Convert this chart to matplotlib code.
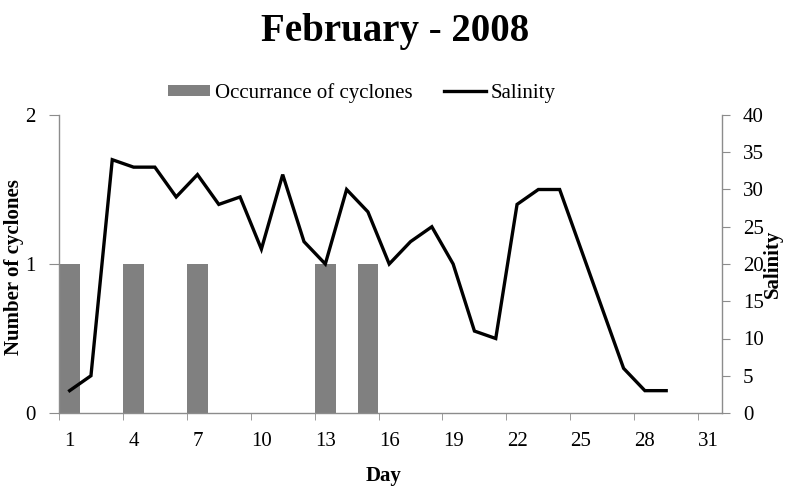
import matplotlib
matplotlib.use("Agg")
import matplotlib.pyplot as plt
import numpy as np

# data
days = np.arange(1, 32)
cyclone_days = [1, 4, 7, 13, 15]
cyclone_counts = [1, 1, 1, 1, 1]
salinity_days = np.arange(1, 30)
salinity = [3, 5, 34, 33, 33, 29, 32, 28, 29, 22, 32, 23, 20, 30, 27,
            20, 23, 25, 20, 11, 10, 28, 30, 30, 22, 14, 6, 3, 3]
day_labels = [str(d) for d in range(1, 32, 3)]

plt.rcParams["font.family"] = ["Liberation Serif", "DejaVu Serif"]
AXIS_GRAY = "#8c8c8c"
FS = 15

fig = plt.figure(figsize=(7.85, 4.87), dpi=100)
ax = fig.add_axes([59 / 785, 1 - 413 / 487, (722 - 59) / 785, (413 - 115) / 487])
ax2 = ax.twinx()

bars = ax.bar(cyclone_days, cyclone_counts, width=0.97, color="#808080",
              label="Occurrance of cyclones", zorder=1)
line, = ax2.plot(salinity_days, salinity, color="black", lw=2.4,
                 label="Salinity", solid_joinstyle="miter")

ax.set_xlim(0.5, 31.62)
ax.set_ylim(0, 2)
ax2.set_ylim(0, 40)

ax.set_yticks([0, 1, 2])
ax2.set_yticks(np.arange(0, 41, 5))
ax.set_xticks(np.arange(1, 32, 3))
ax.set_xticklabels(day_labels)
ax.set_xticks(np.arange(0.5, 31, 3), minor=True)
ax.tick_params(axis="x", which="major", length=0, pad=14, labelsize=FS)
ax.tick_params(axis="x", which="minor", length=5, color=AXIS_GRAY, direction="out")
ax.tick_params(axis="y", length=7, color=AXIS_GRAY, pad=10, labelsize=FS)
ax2.tick_params(axis="y", length=6, color=AXIS_GRAY, pad=9, labelsize=FS)

for a in (ax, ax2):
    a.spines["top"].set_visible(False)
    for s in ("left", "right", "bottom"):
        a.spines[s].set_color(AXIS_GRAY)
        a.spines[s].set_linewidth(1.0)
ax.spines["right"].set_visible(False)
ax2.spines["left"].set_visible(False)
ax2.spines["bottom"].set_visible(False)

ax.set_xlabel("Day", fontsize=FS, fontweight="bold")
ax.xaxis.label.set_va("center")
ax.xaxis.set_label_coords(0.49, -0.212)
ax.set_ylabel("Number of cyclones", fontsize=FS, fontweight="bold")
ax.yaxis.label.set_va("center")
ax.yaxis.set_label_coords(-0.068, 0.49)
ax2.set_ylabel("Salinity", fontsize=FS, fontweight="bold")
ax2.yaxis.label.set_va("center")
ax2.yaxis.set_label_coords(1.077, 0.5)

fig.text(0.503, 1 - 32 / 487, "February - 2008", ha="center", va="center",
         fontsize=28, fontweight="bold")

fig.legend([bars, line], ["Occurrance of cyclones", "Salinity"], loc="center",
           bbox_to_anchor=(362 / 785, 1 - 93 / 487), ncol=2, frameon=False,
           fontsize=FS, handlelength=2.0, handleheight=0.5, handletextpad=0.25,
           columnspacing=1.5)

fig.savefig("out.png", dpi=100)
